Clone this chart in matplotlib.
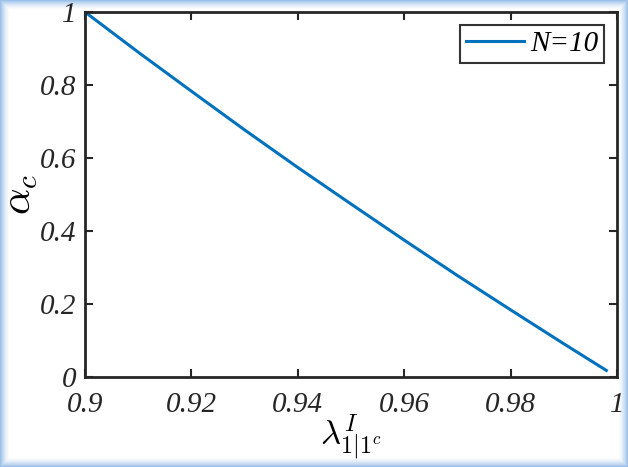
import numpy as np
import matplotlib
matplotlib.use('Agg')
import matplotlib.pyplot as plt

# values (N=10)
lam = [0.900, 0.910, 0.920, 0.930, 0.940, 0.950, 0.960, 0.970, 0.980, 0.990, 0.998]
alpha_c = [1.000, 0.890, 0.783, 0.677, 0.574, 0.474, 0.375, 0.278, 0.184, 0.091, 0.018]
series_label = 'N=10'
xticks = [0.9, 0.92, 0.94, 0.96, 0.98, 1.0]
xtick_labels = ['0.9', '0.92', '0.94', '0.96', '0.98', '1']
yticks = [0, 0.2, 0.4, 0.6, 0.8, 1.0]
ytick_labels = ['0', '0.2', '0.4', '0.6', '0.8', '1']

plt.rcParams['font.family'] = ['Liberation Serif', 'DejaVu Serif']
plt.rcParams['mathtext.fontset'] = 'cm'

W, H = 628, 467
fig = plt.figure(figsize=(W / 100, H / 100), dpi=100)

# light blue frame around the picture (screenshot shadow)
bg = fig.add_axes([0, 0, 1, 1], zorder=-10)
yy, xx = np.mgrid[0:H, 0:W]
d = np.minimum.reduce([xx + 0.5, W - xx - 0.5, yy + 0.5, H - yy - 0.5])
a = np.clip(1 - d / 10.0, 0, 1) ** 1.6
img = np.ones((H, W, 3))
edge = np.array([0.58, 0.74, 0.91])
img = img * (1 - a[..., None]) + edge * a[..., None]
bg.imshow(img, aspect='auto', extent=[0, 1, 0, 1])
bg.axis('off')

ax = fig.add_axes([85 / W, 1 - 377 / H, 532 / W, 365 / H])
ax.plot(lam, alpha_c, color='#0072BD', lw=2.2, label=series_label)

ax.set_xlim(0.9, 1.0)
ax.set_ylim(0, 1)
ax.set_xticks(xticks)
ax.set_xticklabels(xtick_labels)
ax.set_yticks(yticks)
ax.set_yticklabels(ytick_labels)

for lbl in ax.get_xticklabels() + ax.get_yticklabels():
    lbl.set_fontstyle('italic')
    lbl.set_fontsize(21)
    lbl.set_color('#262626')

ax.tick_params(direction='in', length=6, width=1.5, color='#262626',
               top=True, right=True)
ax.tick_params(axis='x', pad=11)
ax.tick_params(axis='y', pad=6)
for s in ax.spines.values():
    s.set_linewidth(2.0)
    s.set_color('#262626')

ax.set_xlabel(r'$\lambda^{I}_{1|1^c}$', fontsize=25, labelpad=-4)
ax.set_ylabel(r'$\alpha_c$', fontsize=30, labelpad=0)

leg = ax.legend(loc='upper right', prop={'style': 'italic', 'size': 21},
                frameon=True, fancybox=False, handlelength=2.0,
                borderpad=0.2, handletextpad=0.2, borderaxespad=0.45)
leg.get_frame().set_edgecolor('black')
leg.get_frame().set_linewidth(1.5)

fig.savefig('out.png', dpi=100)
